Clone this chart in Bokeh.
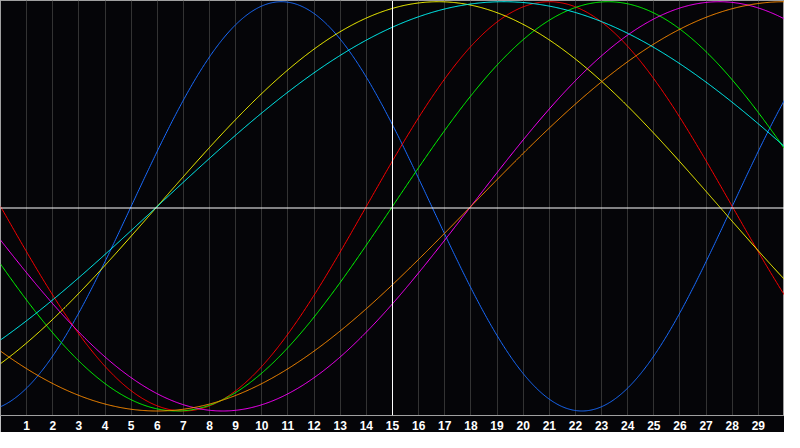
import numpy as np
from bokeh.plotting import figure
from bokeh.models import Range1d, FixedTicker, Span
from bokeh.embed import file_html
from bokeh.resources import INLINE

# Biorhythm cycles: period (days) and the day where each curve crosses zero upward
cycle_names = ["physical", "emotional", "intellectual", "intuitive", "aesthetic", "awareness", "spiritual"]
periods = [23, 28, 33, 38, 43, 48, 53]
upcross_days = [5, 14, 15, 18, 6, 18, 6]
colors = ["#1a6cff", "#ff0000", "#00ff00", "#ff00ff", "#ffff00", "#ff8c00", "#00ffff"]

day_ticks = list(range(1, 30))
day_labels = [str(d) for d in day_ticks]
first_day, last_day = 0, 30
today = 15

BG = "#050508"

p = figure(width=784, height=432, output_backend="svg", toolbar_location=None,
           x_range=Range1d(first_day, last_day), y_range=Range1d(-1.022, 1.006),
           min_border_left=0, min_border_right=0, min_border_top=0, min_border_bottom=0,
           background_fill_color=BG, border_fill_color=BG,
           outline_line_color="#a0a0a0", outline_line_width=1)

p.yaxis.visible = False
p.ygrid.visible = False
p.xgrid.ticker = FixedTicker(ticks=day_ticks)
p.xgrid.grid_line_color = "#333333"
p.xgrid.grid_line_width = 1

xa = p.xaxis[0]
xa.ticker = FixedTicker(ticks=day_ticks)
xa.major_label_overrides = {d: l for d, l in zip(day_ticks, day_labels)}
xa.axis_line_color = "#a0a0a0"
xa.major_tick_line_color = None
xa.minor_tick_line_color = None
xa.major_tick_out = 0
xa.major_tick_in = 0
xa.major_label_standoff = 5
xa.major_label_text_color = "white"
xa.major_label_text_font = "Liberation Sans"
xa.major_label_text_font_style = "bold"
xa.major_label_text_font_size = "12px"

t = np.linspace(first_day, last_day, 901)
for P, c0, col in zip(periods, upcross_days, colors):
    v = np.sin(2 * np.pi * (t - c0) / P)
    p.line(t, v, line_color=col, line_width=1)

p.add_layout(Span(location=-0.008, dimension="width", line_color="white", line_width=1))
p.add_layout(Span(location=today, dimension="height", line_color="white", line_width=1))

open("out.html", "w").write(file_html(p, INLINE))
